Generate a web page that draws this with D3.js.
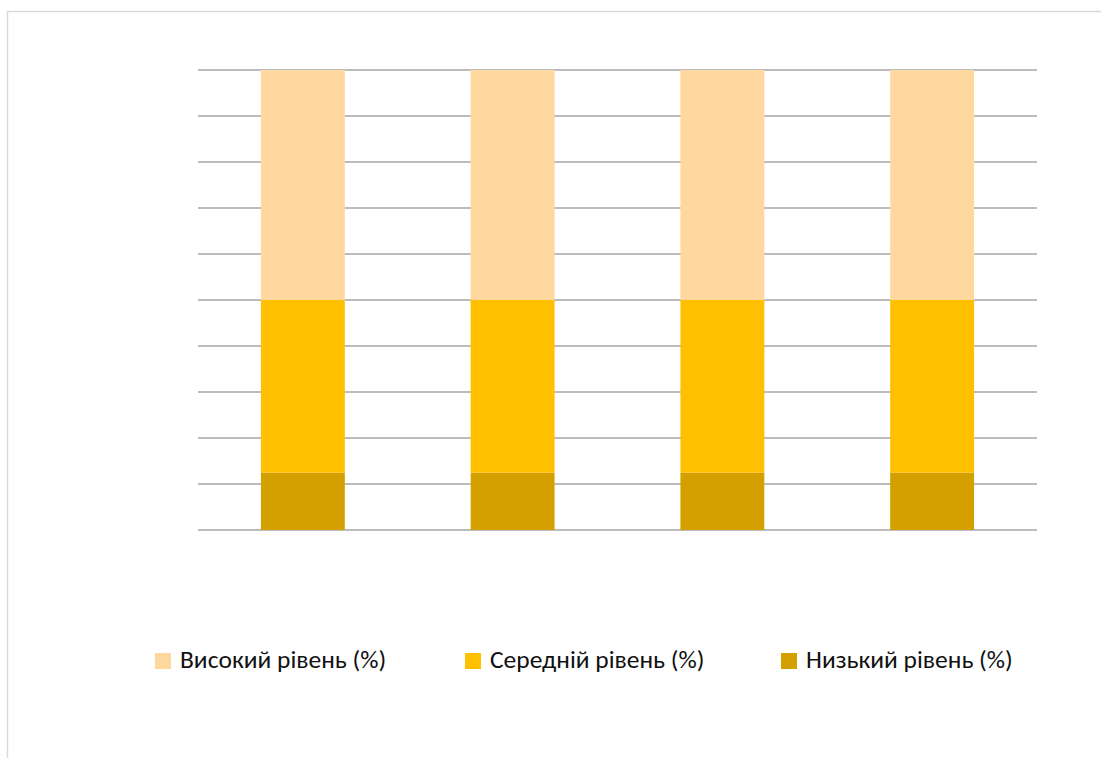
<!DOCTYPE html>
<html><head><meta charset="utf-8">
<script src="https://cdn.jsdelivr.net/npm/d3@7"></script>
<style>body{margin:0;background:#fff}svg{display:block}</style>
</head><body>
<svg id="c" width="1101" height="758"></svg>
<script>
const categories = ["1", "2", "3", "4"];
const seriesNames = ["Низький рівень (%)", "Середній рівень (%)", "Високий рівень (%)"];
const low = [12.5, 12.5, 12.5, 12.5];
const mid = [37.5, 37.5, 37.5, 37.5];
const high = [50, 50, 50, 50];
const yTicks = [0,10,20,30,40,50,60,70,80,90,100];
const colors = ["#d4a000", "#ffc000", "#ffd8a0"];
const legendOrder = [2, 1, 0];

const svg = d3.select("#c");
svg.append("rect").attr("x",7.5).attr("y",11.5).attr("width",1100).attr("height",760)
  .attr("fill","#fff").attr("stroke","#d9d9d9").attr("stroke-width",1.5);

const x0 = 198, x1 = 1037, yTop = 70, yBot = 530;
const x = d3.scaleBand().domain(categories).range([x0, x1]).paddingInner(0.6).paddingOuter(0.3);
const y = d3.scaleLinear().domain([0, 100]).range([yBot, yTop]);

svg.append("g").selectAll("line").data(yTicks).join("line")
  .attr("x1", x0).attr("x2", x1).attr("y1", d => y(d)).attr("y2", d => y(d))
  .attr("stroke", "#a6a6a6").attr("stroke-width", 1.3);

const rows = categories.map((c,i)=>({cat:c, s0:low[i], s1:mid[i], s2:high[i]}));
const stack = d3.stack().keys(["s0","s1","s2"])(rows);
svg.append("g").selectAll("g").data(stack).join("g")
  .attr("fill", (d,i)=>colors[i])
  .selectAll("rect").data(d=>d).join("rect")
  .attr("x", d=>x(d.data.cat)).attr("width", x.bandwidth())
  .attr("y", d=>y(d[1])).attr("height", d=>y(d[0])-y(d[1]));

const legX = [155, 465, 781];
const lg = svg.append("g");
legendOrder.forEach((si, k) => {
  const g = lg.append("g").attr("transform", `translate(${legX[k]},653)`);
  g.append("rect").attr("width", 16).attr("height", 16).attr("fill", colors[si]);
  g.append("text").attr("x", 25).attr("y", 15).attr("font-family", "Carlito, Lato, sans-serif")
    .attr("font-size", 25.5).attr("fill", "#111").text(seriesNames[si]);
});
</script>
</body></html>
